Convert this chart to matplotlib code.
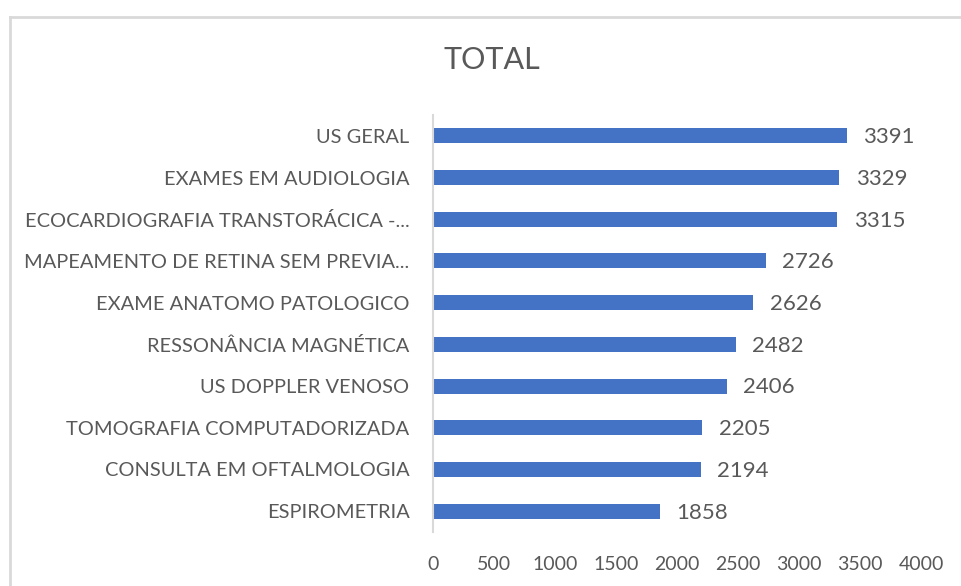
import matplotlib
matplotlib.use("Agg")
import matplotlib.pyplot as plt
from matplotlib.lines import Line2D

categories = [
    "US GERAL",
    "EXAMES EM AUDIOLOGIA",
    "ECOCARDIOGRAFIA TRANSTORÁCICA -...",
    "MAPEAMENTO DE RETINA SEM PREVIA...",
    "EXAME ANATOMO PATOLOGICO",
    "RESSONÂNCIA MAGNÉTICA",
    "US DOPPLER VENOSO",
    "TOMOGRAFIA COMPUTADORIZADA",
    "CONSULTA EM OFTALMOLOGIA",
    "ESPIROMETRIA",
]
totals = [3391, 3329, 3315, 2726, 2626, 2482, 2406, 2205, 2194, 1858]
x_ticks = [0, 500, 1000, 1500, 2000, 2500, 3000, 3500, 4000]

plt.rcParams["font.family"] = ["Lato", "DejaVu Sans"]
text_color = "#595959"

fig = plt.figure(figsize=(9.61, 5.86), dpi=100)
ax = fig.add_axes([0.4506, 0.0922, 0.5078, 0.7116])

pos = list(range(len(categories)))
ax.barh(pos, totals, height=0.36, color="#4472C4")
ax.set_ylim(len(categories) - 0.5, -0.5)
ax.set_xlim(0, 4000)
ax.set_yticks(pos)
ax.set_yticklabels(categories, fontsize=14.4, color=text_color)
ax.set_xticks(x_ticks)
ax.set_xticklabels([str(t) for t in x_ticks], fontsize=14, color=text_color)
ax.tick_params(axis="both", length=0)
ax.tick_params(axis="y", pad=17)
ax.tick_params(axis="x", pad=17)

for s in ["top", "right", "bottom"]:
    ax.spines[s].set_visible(False)
ax.spines["left"].set_color("#d9d9d9")
ax.spines["left"].set_linewidth(1.5)

for y, v in zip(pos, totals):
    ax.annotate(str(v), (v, y), xytext=(12, -1), textcoords="offset points",
                va="center", ha="left", fontsize=16, color=text_color)

fig.text(0.512, 0.897, "TOTAL", ha="center", va="center", fontsize=22, color=text_color)

# outer chart frame (only left/top visible in the crop)
x0 = 9.5 / 961
y0 = 1 - 16.5 / 586
fig.add_artist(Line2D([x0, x0], [0, y0], transform=fig.transFigure, color="#d9d9d9", linewidth=2))
fig.add_artist(Line2D([x0, 1], [y0, y0], transform=fig.transFigure, color="#d9d9d9", linewidth=2))

fig.savefig("out.png", dpi=100, facecolor="white")
